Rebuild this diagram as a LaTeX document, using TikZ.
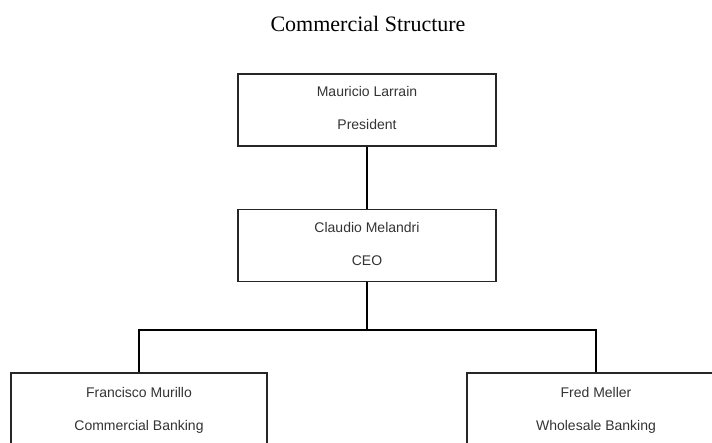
\documentclass[tikz,border=0pt]{standalone}
\usepackage{fontspec}
\setmainfont{Liberation Serif}
\newfontfamily\boxfont{Liberation Sans}
\begin{document}
\begin{tikzpicture}[x=1pt,y=-1pt,
  orgbox/.style={draw=black!85, line width=1.3pt, rectangle, inner sep=0pt, minimum width=258pt, minimum height=72pt},
  boxtext/.style={font=\boxfont\fontsize{14}{16}\selectfont, text=black!80, anchor=base, inner sep=0pt},
  link/.style={draw=black, line width=1.3pt}]
\useasboundingbox (0,0) rectangle (712,443);
\clip (0,0) rectangle (712,443);
\node[font=\fontsize{22}{26}\selectfont, anchor=base, inner sep=0pt] (title) at (368,31.5) {Commercial Structure};
\node[orgbox] (b1) at (367,110) {};
\node[orgbox] (b2) at (367,245.5) {};
\node[orgbox, minimum width=256pt] (b3) at (139,409) {};
\node[orgbox] (b4) at (596,409) {};
\node[boxtext] (t1a) at (367,97) {Mauricio Larrain};
\node[boxtext] (t1b) at (367,130) {President};
\node[boxtext] (t2a) at (367,233) {Claudio Melandri};
\node[boxtext] (t2b) at (367,265.5) {CEO};
\node[boxtext] (t3a) at (139,397) {Francisco Murillo};
\node[boxtext] (t3b) at (139,430) {Commercial Banking};
\node[boxtext] (t4a) at (596,397) {Fred Meller};
\node[boxtext] (t4b) at (596,430) {Wholesale Banking};
\coordinate (j) at (367,330);
\draw[link] (b1.south) -- (b2.north);
\draw[link] (b2.south) -- (j);
\draw[link] (j) -| (b3.north);
\draw[link] (j) -| (b4.north);
\end{tikzpicture}
\end{document}
